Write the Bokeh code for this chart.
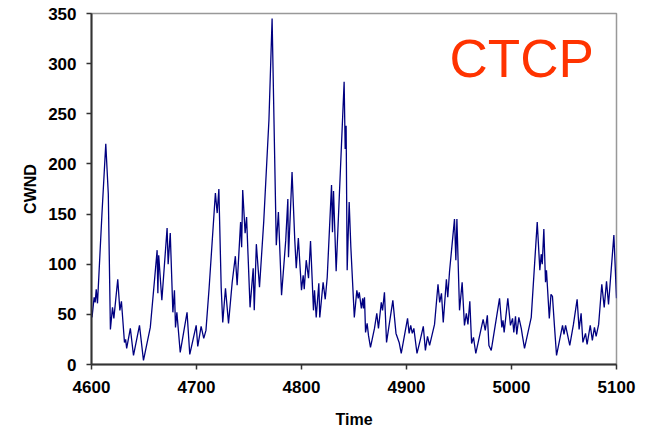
from bokeh.plotting import figure
from bokeh.models import FixedTicker, Label
from bokeh.embed import file_html
from bokeh.resources import INLINE

time = [4600.5, 4602.5, 4603.5, 4604.5, 4605.7, 4610, 4613.6, 4616, 4618, 4620, 4621.3, 4625, 4627,
        4628.5, 4631.4, 4632.5, 4633.5, 4637, 4640, 4645.7, 4649.5, 4656, 4660, 4662.5, 4663.2, 4664,
        4667, 4672, 4673, 4675, 4677.5, 4679, 4680, 4681.3, 4684.5, 4691, 4693.6, 4699.7, 4701.2,
        4704.4, 4706.9, 4709, 4712, 4718, 4719.7, 4721.3, 4723.5, 4725, 4727.6, 4730.5, 4734, 4737,
        4738.7, 4742, 4743, 4744, 4746.3, 4747.7, 4751, 4754, 4755, 4757, 4760, 4764, 4769, 4772,
        4776, 4778, 4781, 4785, 4787, 4787.6, 4791, 4793.6, 4795, 4797, 4798.7, 4800, 4801.6, 4802.6,
        4804.5, 4806.7, 4808.6, 4811.4, 4812.4, 4814, 4816.5, 4817.4, 4820.6, 4822.6, 4824.5, 4828.6,
        4829.5, 4830.5, 4833, 4840.6, 4841.6, 4842.5, 4843.5, 4845.4, 4847, 4850.3, 4852.7, 4854,
        4855, 4857, 4858.3, 4859, 4860, 4861, 4862.5, 4863.8, 4865.7, 4869.5, 4871.7, 4873.3, 4876,
        4877.2, 4879, 4881, 4887, 4890, 4893, 4895, 4901, 4902.5, 4904, 4905.5, 4907, 4910, 4913,
        4916, 4918, 4920, 4922, 4926.7, 4930, 4931.6, 4933.3, 4935, 4938, 4939.3, 4941, 4945.7, 4947,
        4948, 4950.5, 4953, 4955.2, 4957, 4958.5, 4960.3, 4962, 4963.8, 4966, 4973, 4975, 4977,
        4978.5, 4980.7, 4988.6, 4990.8, 4991.9, 4993, 4996.5, 4999, 5001, 5002.2, 5003.8, 5005, 5007,
        5009.3, 5010.5, 5012.4, 5018.8, 5024.5, 5027, 5028.3, 5029.3, 5030.8, 5032.4, 5033.3, 5036,
        5037.6, 5039, 5041, 5042.9, 5048.6, 5050, 5051.5, 5055.5, 5059, 5062.5, 5064.4, 5066.3, 5068,
        5070.5, 5072, 5075, 5077, 5079, 5080.6, 5083, 5086, 5088.3, 5090.5, 5092.4, 5097.5, 5100]
cwnd = [47, 67, 62, 75, 61, 151, 220, 170, 35, 57, 46, 85, 54,
        63, 22, 25, 16, 36, 9, 39, 4, 37, 84, 114, 71, 109,
        64, 136, 100, 131, 52, 74, 37, 52, 12, 52, 10, 39, 18,
        38, 26, 34, 76, 171, 151, 175, 77, 42, 76, 41, 82, 108,
        79, 142, 117, 174, 131, 147, 57, 96, 54, 120, 77, 142, 244, 345,
        119, 152, 69, 124, 165, 107, 192, 124, 96, 126, 96, 74, 89, 75,
        104, 86, 123, 54, 74, 47, 81, 47, 82, 65, 87, 179,
        132, 173, 93, 282, 215, 238, 94, 162, 117, 47, 74, 66,
        72, 56, 66, 56, 67, 32, 41, 29, 17, 36, 51, 36, 62,
        54, 72, 22, 64, 31, 22, 11, 46, 31, 39, 31, 36, 11, 24,
        38, 14, 28, 19, 40, 80, 62, 71, 42, 85, 67, 93, 145, 104,
        145, 54, 82, 39, 51, 40, 63, 21, 27, 11, 45, 34, 49,
        19, 14, 66, 37, 44, 32, 66, 39, 46, 32, 48, 30, 47,
        36, 28, 16, 47, 142, 94, 110, 100, 135, 82, 94, 46,
        70, 68, 37, 9, 39, 30, 39, 19, 40, 65, 35, 51, 22,
        31, 20, 39, 24, 37, 28, 40, 80, 57, 83, 60, 129, 66]

x_ticks = [4600, 4700, 4800, 4900, 5000, 5100]
y_ticks = [0, 50, 100, 150, 200, 250, 300, 350]
x_label = "Time"
y_label = "CWND"
title_text = "CTCP"

FONT = "Liberation Sans"

p = figure(width=650, height=430, output_backend="svg", toolbar_location=None,
           x_range=(4600, 5100), y_range=(0, 350),
           min_border_left=91, min_border_right=34, min_border_top=13, min_border_bottom=66)
p.background_fill_color = "white"
p.border_fill_color = "white"
p.outline_line_color = "#999999"
p.outline_line_width = 1.5
p.xgrid.visible = False
p.ygrid.visible = False

p.line(time, cwnd, line_color="#000080", line_width=1.3)

for ax, ticks in ((p.xaxis[0], x_ticks), (p.yaxis[0], y_ticks)):
    ax.ticker = FixedTicker(ticks=ticks)
    ax.minor_tick_line_color = None
    ax.major_tick_in = 0
    ax.major_tick_out = 5
    ax.major_tick_line_color = "#333333"
    ax.major_tick_line_width = 1.5
    ax.axis_line_color = "#333333"
    ax.axis_line_width = 2
    ax.major_label_text_font = FONT
    ax.major_label_text_font_style = "bold"
    ax.major_label_text_font_size = "17px"
    ax.major_label_text_color = "black"
    ax.axis_label_text_font = FONT
    ax.axis_label_text_font_style = "bold"
    ax.axis_label_text_font_size = "16px"
    ax.axis_label_text_color = "black"

p.xaxis.axis_label = x_label
p.yaxis.axis_label = y_label
p.xaxis.major_label_standoff = 11
p.yaxis.major_label_standoff = 10
p.xaxis.axis_label_standoff = 15
p.yaxis.axis_label_standoff = 6

p.add_layout(Label(x=4941, y=305, text=title_text, text_font=FONT, text_font_size="53px",
                   text_color="#FF3300", text_baseline="alphabetic"))

open("out.html", "w").write(file_html(p, INLINE))
